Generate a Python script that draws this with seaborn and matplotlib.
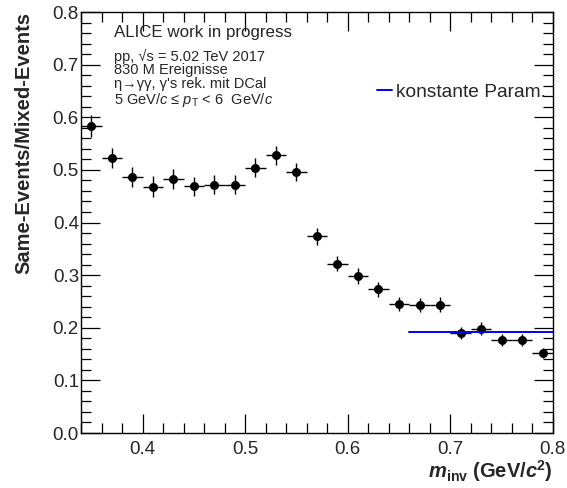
import numpy as np
import pandas as pd
import seaborn as sns
import matplotlib.pyplot as plt
from matplotlib.ticker import MultipleLocator

# --- data ---
m_inv = [0.35, 0.37, 0.39, 0.41, 0.43, 0.45, 0.47, 0.49, 0.51, 0.53, 0.55, 0.57,
         0.59, 0.61, 0.63, 0.65, 0.67, 0.69, 0.71, 0.73, 0.75, 0.77, 0.79]
ratio = [0.584, 0.522, 0.486, 0.468, 0.483, 0.469, 0.472, 0.472, 0.504, 0.528, 0.496, 0.374,
         0.322, 0.299, 0.273, 0.245, 0.243, 0.244, 0.190, 0.198, 0.177, 0.177, 0.152]
ratio_err = [0.021, 0.019, 0.019, 0.020, 0.019, 0.018, 0.018, 0.018, 0.018, 0.018, 0.017, 0.016,
             0.015, 0.015, 0.014, 0.014, 0.014, 0.014, 0.012, 0.012, 0.011, 0.011, 0.010]
bin_half_width = [0.01] * len(m_inv)

fit_range = [0.66, 0.80]
fit_const = [0.192, 0.192]

df = pd.DataFrame({"m": m_inv, "r": ratio})
fit_df = pd.DataFrame({"m": fit_range, "r": fit_const})

sns.set_theme(style="ticks")
plt.rcParams["font.family"] = ["Liberation Sans", "DejaVu Sans"]
plt.rcParams["mathtext.fontset"] = "custom"
plt.rcParams["mathtext.rm"] = "Liberation Sans"
plt.rcParams["mathtext.it"] = "Liberation Sans:italic"
plt.rcParams["mathtext.bf"] = "Liberation Sans:bold"
plt.rcParams["mathtext.bfit"] = "Liberation Sans:bold:italic"

fig = plt.figure(figsize=(5.67, 4.88), dpi=100)
ax = fig.add_axes([0.143, 0.1127, 0.832, 0.8627])

# error bars (bin width + stat. error)
ax.errorbar(m_inv, ratio, xerr=bin_half_width, yerr=ratio_err, fmt="none",
            ecolor="black", elinewidth=1.0, capsize=0, zorder=2)
sns.scatterplot(data=df, x="m", y="r", ax=ax, color="black", s=42,
                edgecolor="black", linewidth=0, zorder=3, legend=False)
sns.lineplot(data=fit_df, x="m", y="r", ax=ax, color="#0000f0", linewidth=1.4,
             label="konstante Param.", zorder=4)

ax.set_xlim(0.34, 0.8)
ax.set_ylim(0.0, 0.8)
ax.xaxis.set_minor_locator(MultipleLocator(0.02))
ax.yaxis.set_minor_locator(MultipleLocator(0.02))
ax.set_xticks([0.4, 0.5, 0.6, 0.7, 0.8])
ax.set_xticklabels(["0.4", "0.5", "0.6", "0.7", "0.8"])
ax.set_yticks([0.0, 0.1, 0.2, 0.3, 0.4, 0.5, 0.6, 0.7, 0.8])
ax.set_yticklabels(["0.0", "0.1", "0.2", "0.3", "0.4", "0.5", "0.6", "0.7", "0.8"])
ax.tick_params(which="both", direction="in", top=True, right=True,
               labelsize=13.5, color="black", width=0.9)
ax.tick_params(which="major", length=14)
ax.tick_params(which="minor", length=7)
ax.tick_params(axis="x", which="major", pad=6)
ax.tick_params(axis="y", which="major", pad=1.5)
for sp in ax.spines.values():
    sp.set_color("black")
    sp.set_linewidth(1.0)

ax.set_ylabel("Same-Events/Mixed-Events", fontsize=14.5, fontweight="bold",
              loc="top", labelpad=14)
ax.set_xlabel(r"$\mathbfit{m}_{\mathbf{inv}}$ (GeV/$\mathbfit{c}^{\mathbf{2}}$)",
              fontsize=14.5, fontweight="bold", loc="right", labelpad=0)

# annotation block
ax.text(0.0700, 0.9525, "ALICE work in progress", transform=ax.transAxes,
        fontsize=12.2, va="center")
info = ["pp, √s = 5.02 TeV 2017",
        "830 M Ereignisse",
        "η→γγ, γ's rek. mit DCal"]
for i, line in enumerate(info):
    ax.text(0.0700, 0.8955 - i * 0.0335, line, transform=ax.transAxes,
            fontsize=10.5, va="center")
ax.text(0.0700, 0.7905, r"5 GeV/$c$ ≤ $p_{\mathrm{T}}$ < 6  GeV/$c$",
        transform=ax.transAxes, fontsize=10.5, va="center")

leg = ax.legend(loc="center right", bbox_to_anchor=(1.022, 0.81), frameon=False,
                fontsize=13.8, handlelength=0.8, handletextpad=0.2)

fig.savefig("out.png", dpi=100)
